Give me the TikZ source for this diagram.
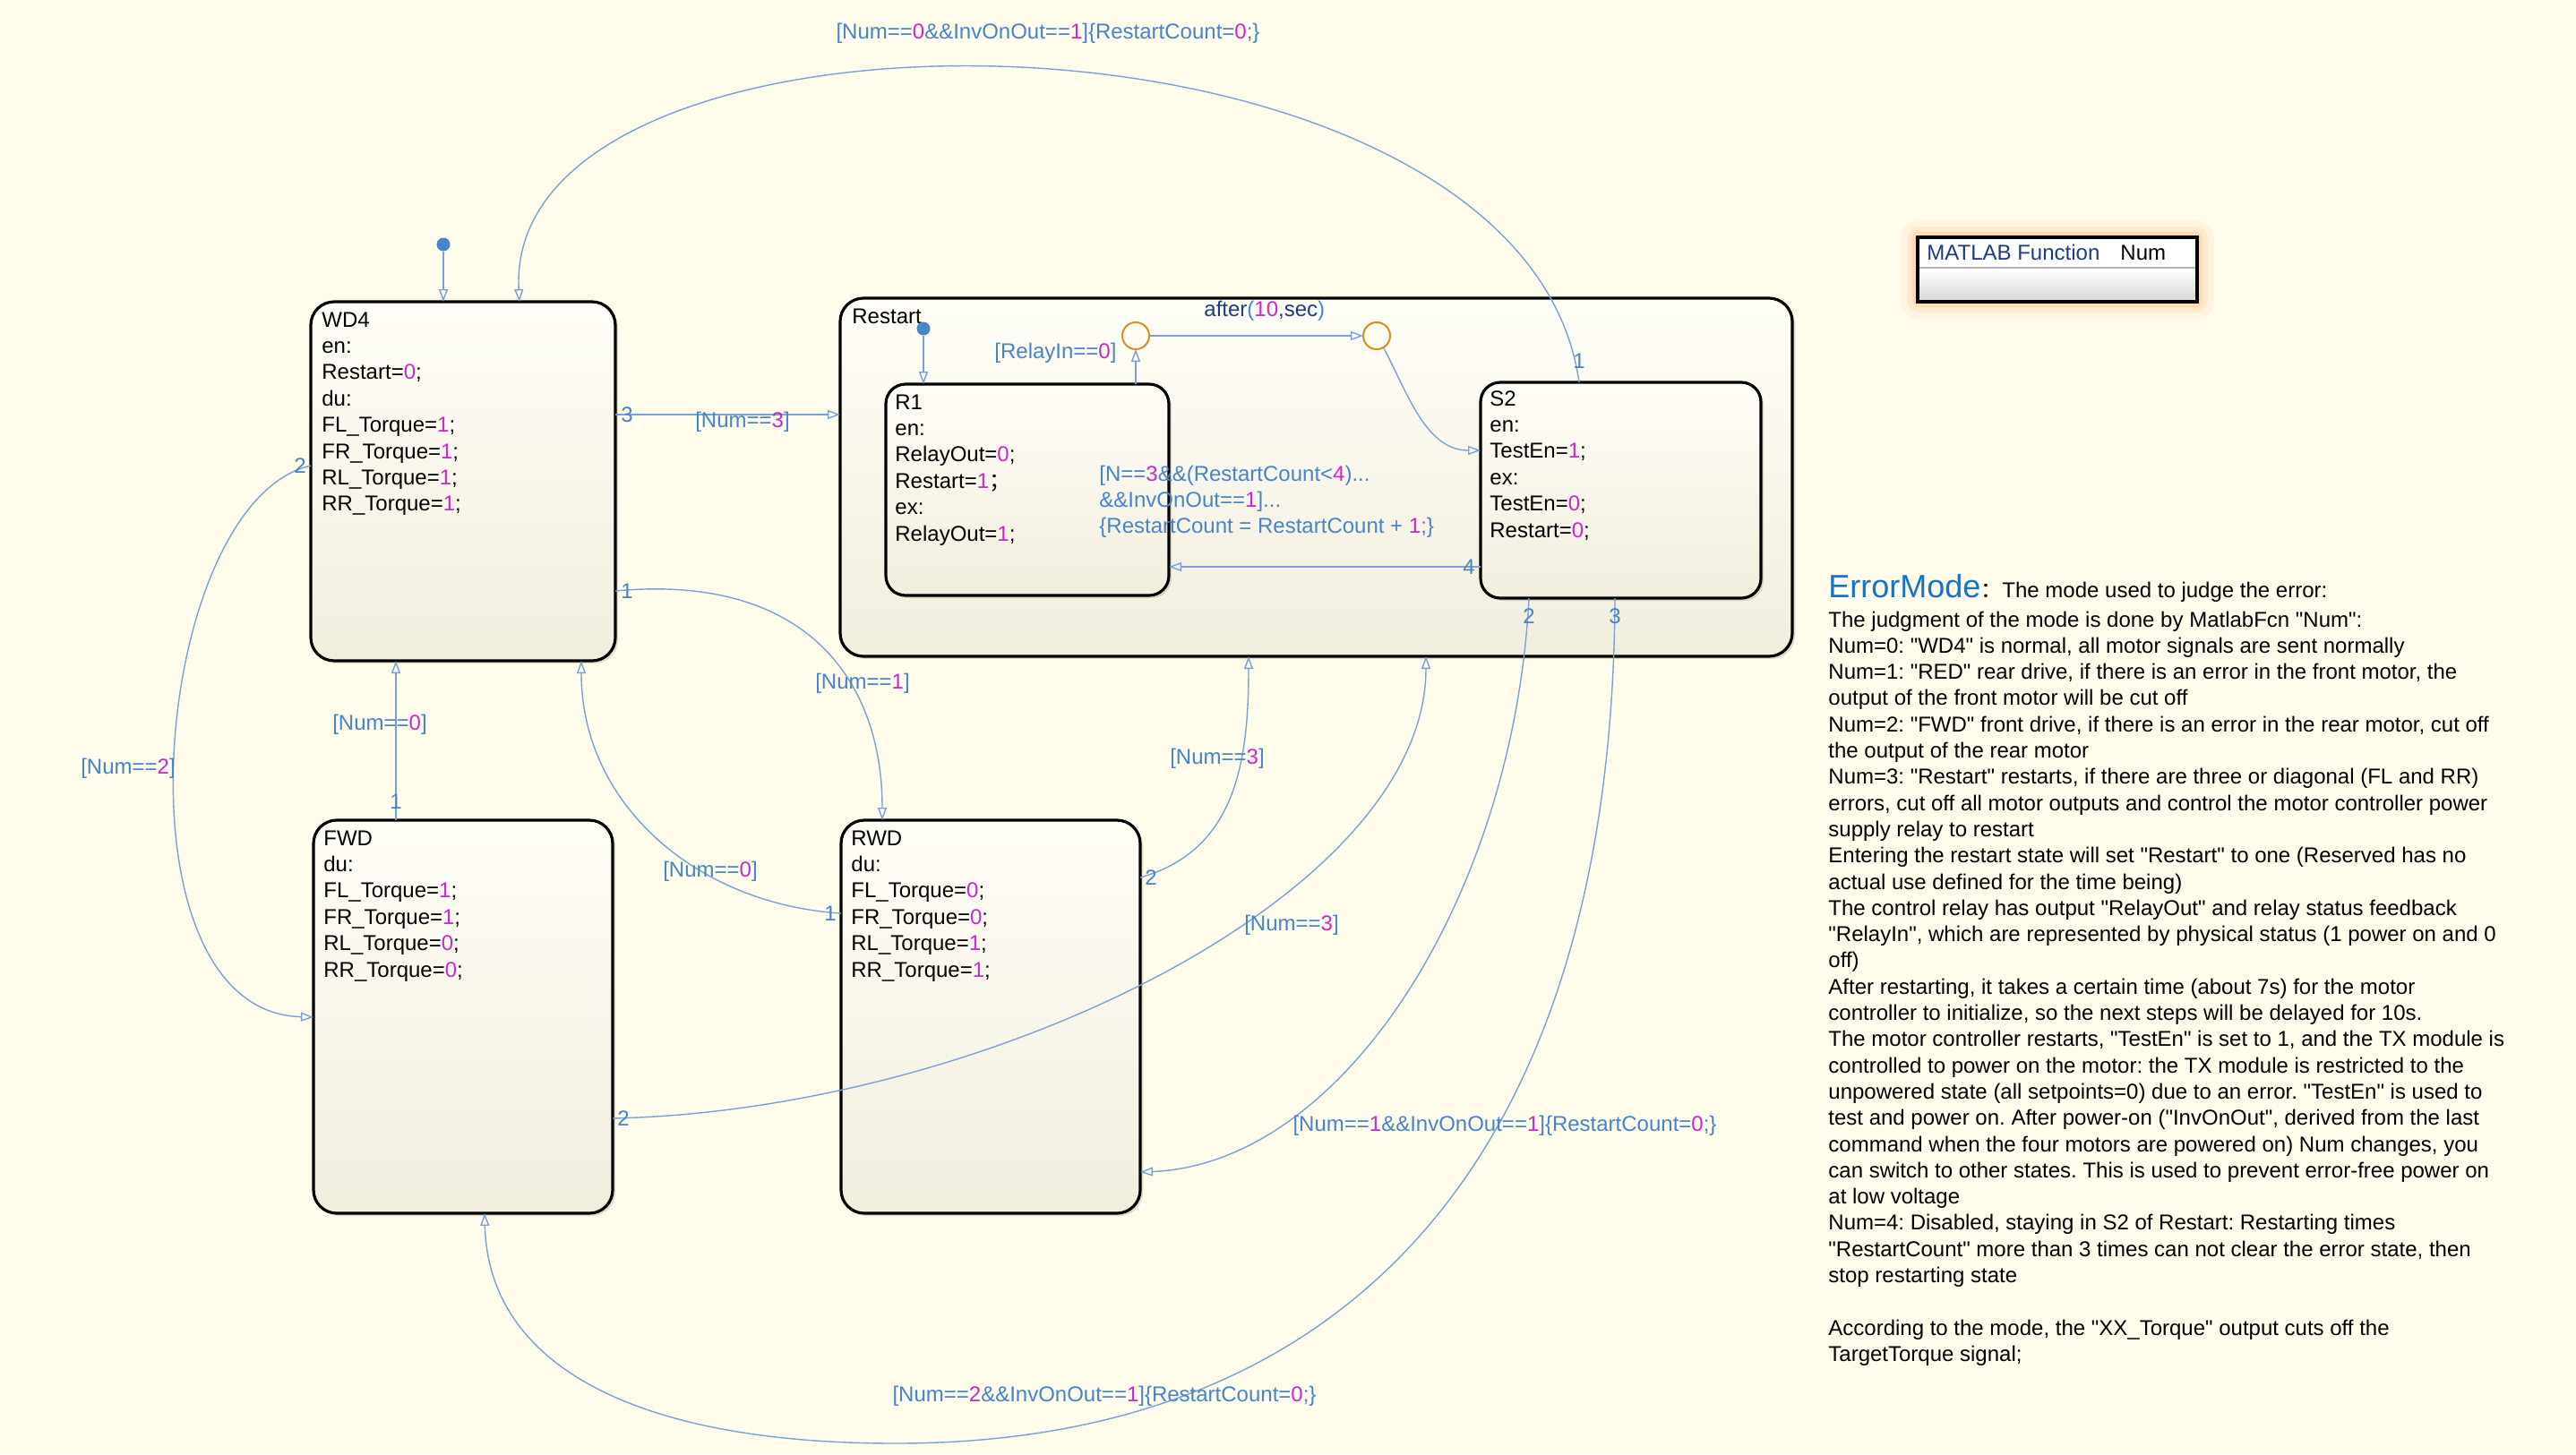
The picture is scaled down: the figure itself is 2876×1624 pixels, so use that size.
\documentclass[tikz,border=0pt]{standalone}
\usepackage{fontspec}
\setmainfont{Liberation Sans}[Ligatures=TeXOff]
\newfontfamily\cjk{Noto Sans CJK SC}
\usetikzlibrary{arrows.meta,shadows}
\definecolor{bg}{RGB}{255,252,236}
\definecolor{tline}{RGB}{120,162,214}
\definecolor{tlab}{RGB}{72,132,200}
\definecolor{mag}{RGB}{204,40,204}
\definecolor{junc}{RGB}{222,140,30}
\definecolor{emblue}{RGB}{25,115,195}
\definecolor{navy}{RGB}{30,60,130}
\definecolor{stop}{RGB}{255,254,247}
\definecolor{sbot}{RGB}{242,238,222}
\newcommand{\mg}[1]{\textcolor{mag}{#1}}
\frenchspacing
\tikzset{
 stbox/.style={draw=black, line width=1.6pt, rounded corners=13pt, top color=stop, bottom color=sbot,
   outer sep=0pt, inner sep=0pt, anchor=north west,
   drop shadow={shadow xshift=1.5pt, shadow yshift=-1.5pt, opacity=0.25}},
 sttext/.style={anchor=base west, inner sep=0pt, font=\fontsize{12}{14.7}\selectfont, text=black},
 tr/.style={draw=tline, line width=0.7pt, -{Triangle[open, length=7pt, width=5pt]}},
 lab/.style={inner sep=0pt, font=\fontsize{12}{14.5}\selectfont, text=tlab},
 junction/.style={circle, draw=junc, line width=1pt, minimum size=15pt, inner sep=0pt, outer sep=0pt},
 defdot/.style={circle, fill=tlab, minimum size=7.5pt, inner sep=0pt, outer sep=0pt},
}
\begin{document}
\begin{tikzpicture}[x=0.5pt,y=-0.5pt]
\useasboundingbox (0,0) rectangle (2876,1624);
\fill[bg] (0,0) rectangle (2876,1624);

% ---------- states ----------
\node[stbox, minimum width=531.5pt, minimum height=200pt] (Restart) at (938,333) {};
\node[stbox, minimum width=170pt, minimum height=200.5pt] (WD4) at (347,337) {};
\node[stbox, minimum width=167pt, minimum height=219.5pt] (FWD) at (350,916) {};
\node[stbox, minimum width=167pt, minimum height=219.5pt] (RWD) at (939,916) {};
\node[stbox, rounded corners=11pt, minimum width=158pt, minimum height=118pt] (R1) at (989,429) {};
\node[stbox, rounded corners=11pt, minimum width=156.5pt, minimum height=120.5pt] (S2) at (1653,427) {};

\node[sttext] (WD4t) at (359,365) {\parbox[t]{150pt}{\raggedright WD4\\en:\\Restart=\mg{0};\\du:\\FL\_Torque=\mg{1};\\FR\_Torque=\mg{1};\\RL\_Torque=\mg{1};\\RR\_Torque=\mg{1};}};
\node[sttext] (FWDt) at (361,944) {\parbox[t]{150pt}{\raggedright FWD\\du:\\FL\_Torque=\mg{1};\\FR\_Torque=\mg{1};\\RL\_Torque=\mg{0};\\RR\_Torque=\mg{0};}};
\node[sttext] (RWDt) at (950,944) {\parbox[t]{150pt}{\raggedright RWD\\du:\\FL\_Torque=\mg{0};\\FR\_Torque=\mg{0};\\RL\_Torque=\mg{1};\\RR\_Torque=\mg{1};}};
\node[sttext] (Restartt) at (951,361) {Restart};
\node[sttext] (R1t) at (999,457) {\parbox[t]{140pt}{\raggedright R1\\en:\\RelayOut=\mg{0};\\Restart=\mg{1}{\cjk ；}\\ex:\\RelayOut=\mg{1};}};
\node[sttext] (S2t) at (1663,453) {\parbox[t]{140pt}{\raggedright S2\\en:\\TestEn=\mg{1};\\ex:\\TestEn=\mg{0};\\Restart=\mg{0};}};

% ---------- junctions and default dots ----------
\node[junction] (j1) at (1268,375) {};
\node[junction] (j2) at (1537,375) {};
\node[defdot] (d1) at (495,273) {};
\node[defdot] (d2) at (1031,367) {};

% ---------- attachment points ----------
\coordinate (wd4in0) at (495,337);
\coordinate (wd4inTop) at (580,337);
\coordinate (wd4o3) at (687,463);
\coordinate (wd4o1) at (687,660);
\coordinate (wd4o2) at (347,520);
\coordinate (wd4b1) at (442,738);
\coordinate (wd4b2) at (649,738);
\coordinate (rsl) at (938,463);
\coordinate (rsb1) at (1394,733);
\coordinate (rsb2) at (1592,733);
\coordinate (fwt) at (442,916);
\coordinate (fwl) at (350,1136);
\coordinate (fwr) at (684,1249);
\coordinate (fwb) at (541,1355);
\coordinate (rwt) at (985,916);
\coordinate (rwl) at (939,1020);
\coordinate (rwr2) at (1273,980);
\coordinate (rwr1) at (1273,1309);
\coordinate (r1t0) at (1031,429);
\coordinate (r1t) at (1268,429);
\coordinate (r1r) at (1305,633);
\coordinate (s2l) at (1653,503);
\coordinate (s2l4) at (1653,633);
\coordinate (s2t) at (1763,427);
\coordinate (s2b2) at (1707,668);
\coordinate (s2b3) at (1803,668);
\coordinate (lowpt) at (1000,1612);

% ---------- transitions ----------
\draw[tr] (d1) -- (wd4in0);
\draw[tr] (d2) -- (r1t0);
\draw[tr] (r1t) -- (j1);
\draw[tr] (j1) -- (j2);
\draw[tr] (j2.-60) .. controls (1572,440) and (1592,503) .. (s2l);
\draw[tr] (s2l4) -- (r1r);
\draw[tr] (s2t) .. controls (1700,-20) and (560,-30) .. (wd4inTop);
\draw[tr] (wd4o3) -- (rsl);
\draw[tr] (wd4o1) .. controls (900,640) and (985,760) .. (rwt);
\draw[tr] (wd4o2) .. controls (170,560) and (120,1130) .. (fwl);
\draw[tr] (fwt) -- (wd4b1);
\draw[tr] (rwl) .. controls (780,1010) and (649,900) .. (wd4b2);
\draw[tr] (fwr) .. controls (1100,1240) and (1592,1000) .. (rsb2);
\draw[tr] (rwr2) .. controls (1380,950) and (1394,850) .. (rsb1);
\draw[tr] (s2b2) .. controls (1690,1000) and (1500,1300) .. (rwr1);
\draw[tr] (s2b3) .. controls (1800,1300) and (1500,1612) .. (lowpt) .. controls (700,1612) and (545,1520) .. (fwb);

% ---------- transition numbers ----------
\node[lab] (n1) at (700,463) {3};
\node[lab] (n2) at (700,660) {1};
\node[lab] (n3) at (335,520) {2};
\node[lab] (n4) at (442,895) {1};
\node[lab] (n5) at (696,1249) {2};
\node[lab] (n6) at (927,1020) {1};
\node[lab] (n7) at (1285,980) {2};
\node[lab] (n8) at (1763,403) {1};
\node[lab] (n9) at (1707,688) {2};
\node[lab] (n10) at (1803,688) {3};
\node[lab] (n11) at (1640,633) {4};

% ---------- transition labels ----------
\node[lab] (l1) at (1170,37) {[Num==\mg{0}\&\&InvOnOut==\mg{1}]\{RestartCount=\mg{0};\}};
\node[lab] (l2) at (829,471) {[Num==\mg{3}]};
\node[lab] (l3) at (963,763) {[Num==\mg{1}]};
\node[lab] (l4) at (424,809) {[Num==\mg{0}]};
\node[lab] (l5) at (143,858) {[Num==\mg{2}]};
\node[lab] (l6) at (793,973) {[Num==\mg{0}]};
\node[lab] (l7) at (1359,847) {[Num==\mg{3}]};
\node[lab] (l8) at (1442,1033) {[Num==\mg{3}]};
\node[lab] (l9) at (1680,1257) {[Num==\mg{1}\&\&InvOnOut==\mg{1}]\{RestartCount=\mg{0};\}};
\node[lab] (l10) at (1233,1559) {[Num==\mg{2}\&\&InvOnOut==\mg{1}]\{RestartCount=\mg{0};\}};
\node[lab, anchor=base west] (l11) at (1110,400) {[RelayIn==\mg{0}]};
\node[lab, anchor=base west, text=navy] (l12) at (1344,353) {after\textcolor{tlab}{(}\mg{10},sec\textcolor{tlab}{)}};
\node[lab, anchor=base west] (l13) at (1227,537) {\parbox[t]{250pt}{\fontsize{12}{14.5}\selectfont\raggedright [N==\mg{3}\&\&(RestartCount<\mg{4})...\\\&\&InvOnOut==\mg{1}]...\\\{RestartCount = RestartCount + \mg{1};\}}};

% ---------- MATLAB Function block ----------
\fill[orange!40, opacity=0.15, rounded corners=10pt] (2122,246) rectangle (2472,356);
\fill[orange!45, opacity=0.22, rounded corners=7pt] (2129,253) rectangle (2465,349);
\fill[orange!50, opacity=0.3, rounded corners=4pt] (2135,259) rectangle (2459,343);
\node[fill=white, minimum width=156pt, minimum height=36pt, anchor=north west, inner sep=0pt, outer sep=0pt] (ML) at (2141,265) {};
\shade[top color=white, bottom color=black!15] (2143,300) rectangle (2451,335);
\draw[black!30, line width=0.6pt] (2143,299) -- (2451,299);
\draw[black, line width=2.2pt] (ML.north west) rectangle (ML.south east);
\node[anchor=base west, inner sep=0pt, text=navy, font=\fontsize{12}{14}\selectfont] (MLt) at (2151,290) {MATLAB Function};
\node[anchor=base west, inner sep=0pt, font=\fontsize{12}{14}\selectfont] (MLn) at (2367,290) {Num};

% ---------- ErrorMode note ----------
\node[anchor=base west, inner sep=0pt, font=\fontsize{12}{14}\selectfont] (EMh) at (2041,667) {{\fontsize{18}{20}\selectfont\color{emblue}ErrorMode}{\cjk ：}The mode used to judge the error:};
\node[anchor=base west, inner sep=0pt, font=\fontsize{12}{14.65}\selectfont] (EMb) at (2041,700) {\parbox[t]{600pt}{\raggedright
The judgment of the mode is done by MatlabFcn "Num":\\
Num=0: "WD4" is normal, all motor signals are sent normally\\
Num=1: "RED" rear drive, if there is an error in the front motor, the\\
output of the front motor will be cut off\\
Num=2: "FWD" front drive, if there is an error in the rear motor, cut off\\
the output of the rear motor\\
Num=3: "Restart" restarts, if there are three or diagonal (FL and RR)\\
errors, cut off all motor outputs and control the motor controller power\\
supply relay to restart\\
Entering the restart state will set "Restart" to one (Reserved has no\\
actual use defined for the time being)\\
The control relay has output "RelayOut" and relay status feedback\\
"RelayIn", which are represented by physical status (1 power on and 0\\
off)\\
After restarting, it takes a certain time (about 7s) for the motor\\
controller to initialize, so the next steps will be delayed for 10s.\\
The motor controller restarts, "TestEn" is set to 1, and the TX module is\\
controlled to power on the motor: the TX module is restricted to the\\
unpowered state (all setpoints=0) due to an error. "TestEn" is used to\\
test and power on. After power-on ("InvOnOut", derived from the last\\
command when the four motors are powered on) Num changes, you\\
can switch to other states. This is used to prevent error-free power on\\
at low voltage\\
Num=4: Disabled, staying in S2 of Restart: Restarting times\\
"RestartCount" more than 3 times can not clear the error state, then\\
stop restarting state\\
\mbox{}\\
According to the mode, the "XX\_Torque" output cuts off the\\
TargetTorque signal;}};
\end{tikzpicture}
\end{document}
